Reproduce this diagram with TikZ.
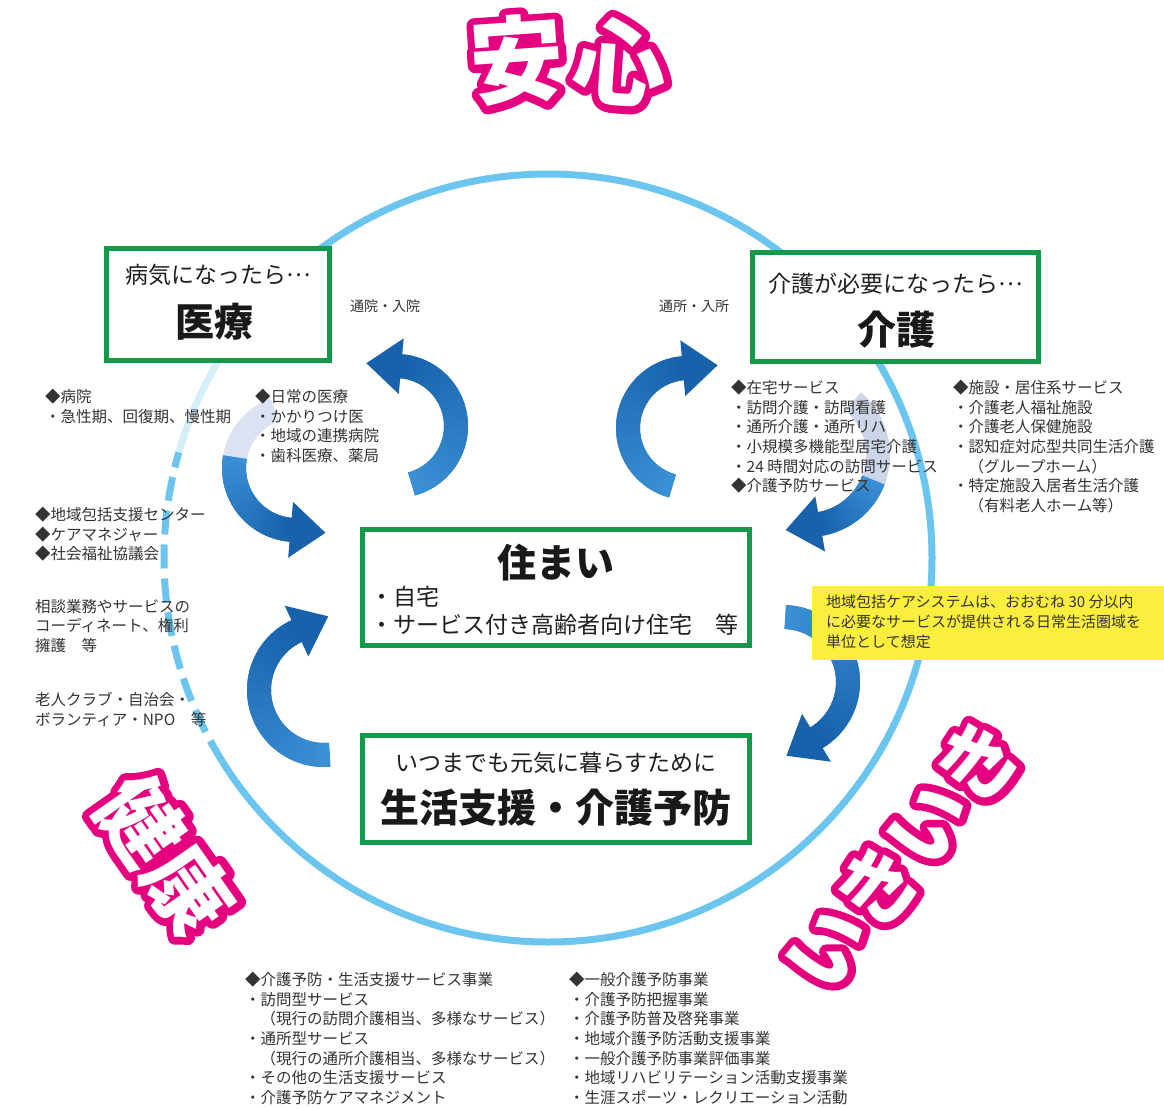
\documentclass[tikz,border=0pt]{standalone}
\usepackage{fontspec}
\setmainfont{Noto Sans CJK JP}
\definecolor{pinkc}{HTML}{E4007F}
\definecolor{ringc}{HTML}{6CC5EF}
\definecolor{ringl}{HTML}{D6EEFA}
\definecolor{gboxc}{HTML}{13994A}
\definecolor{arrA}{HTML}{3A90D4}
\definecolor{arrB}{HTML}{1862AC}
\definecolor{fadeA}{HTML}{DCE2F2}
\definecolor{fadeB}{HTML}{CDD6E8}
\definecolor{txt}{HTML}{333333}
\definecolor{yel}{HTML}{FCEE3C}
\newcommand{\strokeon}{\special{pdf:literal direct 1 Tr 15 w 1 j 1 J}}
\newcommand{\strokeoff}{\special{pdf:literal direct 0 Tr 1 w}}
\newcommand{\pinkword}[1]{\rlap{\color{pinkc}\strokeon#1\strokeoff}{\color{white}#1}}
\newcommand{\jdots}{\raisebox{0.32em}{…}}
\newcommand{\carrow}[6]{%
  \draw[line width=24pt, draw=arrA!50!arrB] plot[domain=#4:#5,samples=40] ({#1+#3*cos(\x)},{#2+#3*sin(\x)});
  \foreach \i in {0,...,23}{%
    \pgfmathsetmacro\sa{(#4)+\i*((#5)-(#4))/24}%
    \pgfmathsetmacro\ea{(#4)+(\i+1)*((#5)-(#4))/24+0.6*(#6)}%
    \pgfmathtruncatemacro\pc{\i*100/23}%
    \draw[line width=24pt, draw=arrB!\pc!arrA] plot[domain=\sa:\ea,samples=4] ({#1+#3*cos(\x)},{#2+#3*sin(\x)});
  }%
  \fill[arrB] ({#1+(#3+28)*cos(#5)},{#2+(#3+28)*sin(#5)}) -- ({#1+#3*cos(#5)-(#6)*35*sin(#5)},{#2+#3*sin(#5)+(#6)*35*cos(#5)}) -- ({#1+(#3-28)*cos(#5)},{#2+(#3-28)*sin(#5)}) -- cycle;
}
\begin{document}
\begin{tikzpicture}[x=1pt,y=-1pt,
  lst/.style={anchor=north west, inner sep=0pt, align=left, font=\fontsize{15.5}{19.6}\selectfont, text=txt},
  gboxs/.style={draw=gboxc, line width=5pt, fill=white, inner sep=0pt},
  smallt/.style={inner sep=0pt, font=\fontsize{23}{27}\selectfont, text=black!88},
  bigt/.style={inner sep=0pt, font=\fontsize{39}{44}\selectfont\bfseries, text=black!90},
  lbl/.style={inner sep=0pt, font=\fontsize{14}{16}\selectfont, text=txt},
  pinkw/.style={inner sep=0pt},
]
\fill[white] (0,0) rectangle (1164,1108);
\useasboundingbox (0,0) rectangle (1164,1108);

% ring
\draw[ringc, line width=7pt] (548,558) circle[radius=384];
\draw[white, line width=9pt] plot[domain=148:212, samples=80] ({548+384*cos(\x)},{558+384*sin(\x)});
\draw[ringc, line width=7pt, dash pattern=on 24pt off 10pt] plot[domain=148:196, samples=80] ({548+384*cos(\x)},{558+384*sin(\x)});
\draw[ringl, line width=7pt] plot[domain=196:212, samples=40] ({548+384*cos(\x)},{558+384*sin(\x)});

% arrows
\draw[line width=24pt, fadeA] plot[domain=250:188, samples=30] ({296+62*cos(\x)},{468+62*sin(\x)});
\carrow{296}{468}{62}{190}{95}{-1}
\carrow{396}{426}{60}{75}{-85}{-1}
\carrow{688}{428}{60}{105}{265}{1}
\draw[line width=24pt, fadeB] plot[domain=-50:23, samples=30] ({808+70*cos(\x)},{455+70*sin(\x)});
\carrow{808}{455}{70}{21}{80}{1}
\carrow{783}{682}{65}{-88}{59}{1}
\carrow{324}{690}{65}{85}{245}{1}

% boxes
\node[gboxs, minimum width=223, minimum height=112] (iryo) at (218,304.5) {};
\node[gboxs, minimum width=286, minimum height=109] (kaigo) at (895.5,307) {};
\node[gboxs, minimum width=387, minimum height=116] (sumai) at (556,587.5) {};
\node[gboxs, minimum width=387, minimum height=107] (seikatsu) at (556,789) {};

\node[smallt] (iryo1) at (218,275) {病気になったら\jdots};
\node[bigt] (iryo2) at (214,322) {医療};
\node[smallt] (kaigo1) at (896,284) {介護が必要になったら\jdots};
\node[bigt] (kaigo2) at (896,330) {介護};
\node[bigt] (sumai1) at (556,563) {住まい};
\node[smallt, anchor=west] (sumai2) at (370,597) {・自宅};
\node[smallt, anchor=west] (sumai3) at (370,625) {・サービス付き高齢者向け住宅　等};
\node[smallt] (sei1) at (556,763) {いつまでも元気に暮らすために};
\node[bigt] (sei2) at (556,808) {生活支援・介護予防};

\node[lbl] (tsuin) at (385,306) {通院・入院};
\node[lbl] (tsusho) at (694,306) {通所・入所};

% lists
\node[lst] (l1) at (45,389) {◆病院\\・急性期、回復期、慢性期};
\node[lst] (l2) at (255,389) {◆日常の医療\\・かかりつけ医\\・地域の連携病院\\・歯科医療、薬局};
\node[lst] (l3) at (35,507) {◆地域包括支援センター\\◆ケアマネジャー\\◆社会福祉協議会};
\node[lst] (l4) at (35,599) {相談業務やサービスの\\コーディネート、権利\\擁護　等};
\node[lst] (l5) at (35,692) {老人クラブ・自治会・\\ボランティア・NPO　等};
\node[lst] (r1) at (731,380) {◆在宅サービス\\・訪問介護・訪問看護\\・通所介護・通所リハ\\・小規模多機能型居宅介護\\・24 時間対応の訪問サービス\\◆介護予防サービス};
\node[lst] (r2) at (953,380) {◆施設・居住系サービス\\・介護老人福祉施設\\・介護老人保健施設\\・認知症対応型共同生活介護\\　（グループホーム）\\・特定施設入居者生活介護\\　（有料老人ホーム等）};

\node[fill=yel, minimum width=352, minimum height=74, anchor=north west, inner sep=0pt] (yb) at (812,586) {};
\node[lst, font=\fontsize{15}{19.8}\selectfont] (ybt) at (826,595) {地域包括ケアシステムは、おおむね 30 分以内\\に必要なサービスが提供される日常生活圏域を\\単位として想定};

\node[lst] (b1) at (245,972) {◆介護予防・生活支援サービス事業\\・訪問型サービス\\　（現行の訪問介護相当、多様なサービス）\\・通所型サービス\\　（現行の通所介護相当、多様なサービス）\\・その他の生活支援サービス\\・介護予防ケアマネジメント};
\node[lst] (b2) at (569,972) {◆一般介護予防事業\\・介護予防把握事業\\・介護予防普及啓発事業\\・地域介護予防活動支援事業\\・一般介護予防事業評価事業\\・地域リハビリテーション活動支援事業\\・生涯スポーツ・レクリエーション活動};

% pink words
\node[pinkw, font=\fontsize{94}{100}\selectfont\bfseries, rotate=4] (an) at (517,60) {\pinkword{安}};
\node[pinkw, font=\fontsize{94}{100}\selectfont\bfseries, rotate=-4] (shin) at (620,62) {\pinkword{心}};
\node[pinkw, font=\fontsize{84}{90}\selectfont\bfseries, rotate=-55] (kenko) at (165,855) {\pinkword{健康}};
\node[pinkw, font=\fontsize{80}{90}\selectfont\bfseries, rotate=51] (ikiiki) at (903,855) {\pinkword{いきいき}};
\end{tikzpicture}
\end{document}
